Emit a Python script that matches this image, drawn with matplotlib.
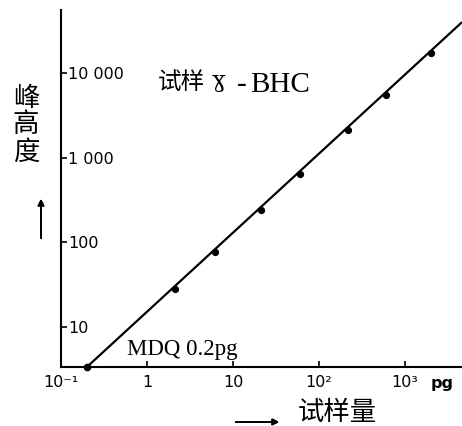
import matplotlib
matplotlib.use("Agg")
import matplotlib.pyplot as plt
from matplotlib.transforms import blended_transform_factory

# ---- data ----
sample_pg = [2.1, 6.2, 21, 60, 215, 600, 2000]
peak_height = [28, 77, 240, 640, 2100, 5500, 17300]
mdq_x = [0.2]
mdq_y = [3.36]
line_x = [0.2, 4600]
line_y = [3.36, 40000]

x_ticks = [0.1, 1, 10, 100, 1000]
x_tick_labels = ["10⁻¹", "1", "10", "10²", "10³"]
y_ticks = [10, 100, 1000, 10000]
y_tick_labels = ["10", "100", "1 000", "10 000"]

W, H = 462, 426
fig = plt.figure(figsize=(W / 100, H / 100), dpi=100)
ax = fig.add_axes([61 / W, 59 / H, 401 / W, 357 / H])
ax.set_xscale("log")
ax.set_yscale("log")
ax.set_xlim(0.1, 4600)
ax.set_ylim(3.36, 55700)

ax.plot(line_x, line_y, color="black", lw=1.6, solid_capstyle="butt", clip_on=True)
ax.plot(sample_pg, peak_height, "o", color="black", ms=4.2)
ax.plot(mdq_x, mdq_y, "o", color="black", ms=4.5, clip_on=False, zorder=5)

for s in ("top", "right"):
    ax.spines[s].set_visible(False)
for s in ("left", "bottom"):
    ax.spines[s].set_linewidth(1.5)

ax.minorticks_off()
ax.set_xticks(x_ticks)
ax.set_xticklabels(x_tick_labels)
ax.set_yticks(y_ticks)
ax.set_yticklabels(y_tick_labels)
ax.tick_params(axis="both", direction="in", length=4, width=1.2,
               labelsize=11.5, colors="black")
ax.tick_params(axis="x", pad=6)
ax.tick_params(axis="y", pad=-5)
for lab in ax.get_yticklabels():
    lab.set_horizontalalignment("left")

trans = blended_transform_factory(ax.transData, ax.transAxes)
ax.text(2730, -0.045, "pg", transform=trans, ha="center", va="center",
        fontsize=11.5, fontweight="bold")

cjk = ["Noto Sans CJK SC", "DejaVu Sans"]
serif = ["Liberation Serif", "DejaVu Serif"]

# title inside plot
base = 1 - 92 / H
fig.text(158 / W, 1 - 82 / H, "试样", family=cjk, fontsize=17,
         ha="left", va="center", fontweight="light")
fig.text(212 / W, base, "ɣ", family=["DejaVu Serif"], fontsize=16.5,
         ha="left", va="bottom")
fig.text(237 / W, base, "-", family=serif, fontsize=21,
         ha="left", va="baseline")
fig.text(250 / W, base, "BHC", family=serif, fontsize=21,
         ha="left", va="baseline")
fig.text(127 / W, 1 - 349 / H, "MDQ 0.2pg", family=serif, fontsize=16.5,
         ha="left", va="center")

# y label stacked characters
for ch, yc in zip("峰高度", [98, 125, 152]):
    fig.text(26 / W, 1 - yc / H, ch, family=cjk, fontsize=19,
             ha="center", va="center", fontweight="light")
fig.text(337 / W, 1 - 412 / H, "试样量", family=cjk, fontsize=19,
         ha="center", va="center", fontweight="light")

# arrows
fig.add_artist(plt.annotate("", xy=(41, H - 196), xytext=(41, H - 241),
               xycoords="figure pixels", textcoords="figure pixels",
               arrowprops=dict(arrowstyle="-|>", color="black", lw=1.3,
                               mutation_scale=9)))
fig.add_artist(plt.annotate("", xy=(282, H - 422), xytext=(233, H - 422),
               xycoords="figure pixels", textcoords="figure pixels",
               arrowprops=dict(arrowstyle="-|>", color="black", lw=1.3,
                               mutation_scale=9)))

fig.savefig("out.png", dpi=100)
